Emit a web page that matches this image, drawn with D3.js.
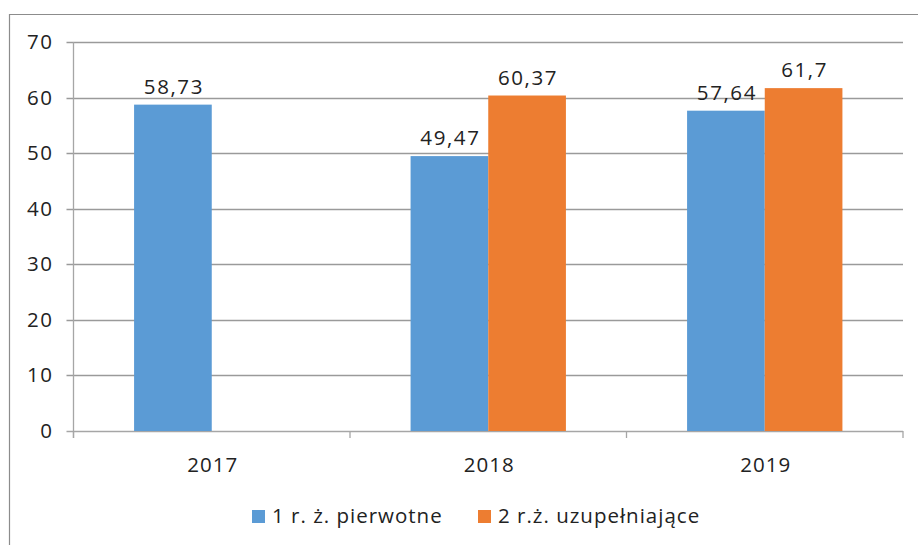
<!DOCTYPE html>
<html>
<head>
<meta charset="utf-8">
<script src="https://d3js.org/d3.v7.min.js"></script>
<style>
	body { margin: 0; background: #fff; }
	text { font-family: "Open Sans", sans-serif; fill: #222; }
</style>
</head>
<body>
<script>
var years = ['2017', '2018', '2019'];
var seriesNames = ['1 r. ż. pierwotne', '2 r.ż. uzupełniające'];
var pierwotne = [58.73, 49.47, 57.64];
var uzupelniajace = [null, 60.37, 61.7];
var yTicks = [0, 10, 20, 30, 40, 50, 60, 70];
var colors = ['#5b9bd5', '#ed7d31'];

var width = 918, height = 545;
var margin = {left: 73.5, right: 15, top: 42, bottom: 114};

var svg = d3.select('body').append('svg')
	.attr('width', width)
	.attr('height', height);

// outer chart frame (cut off at right and bottom)
svg.append('path')
	.attr('d', 'M9.5,' + height + 'V14.5H' + width)
	.attr('fill', 'none')
	.attr('stroke', '#8c8c8c')
	.attr('stroke-width', 1.2);

var x = d3.scaleBand()
	.domain(years)
	.range([margin.left, width - margin.right]);

var x1 = d3.scaleBand()
	.domain([0, 1])
	.range([0, x.bandwidth()])
	.paddingOuter(0.78)
	.paddingInner(0);

var y = d3.scaleLinear()
	.domain([0, 70])
	.range([height - margin.bottom, margin.top]);

// gridlines + y labels
var yAxis = svg.append('g');
yAxis.selectAll('line.grid')
	.data(yTicks)
	.enter().append('line')
	.attr('x1', margin.left - 7)
	.attr('x2', width - margin.right)
	.attr('y1', function(d){ return Math.round(y(d)) + 0.5; })
	.attr('y2', function(d){ return Math.round(y(d)) + 0.5; })
	.attr('stroke', function(d){ return d === 0 ? '#a6a6a6' : '#9a9a9a'; })
	.attr('stroke-width', 1.3);

yAxis.selectAll('text')
	.data(yTicks)
	.enter().append('text')
	.attr('x', 53.5)
	.attr('y', function(d){ return y(d) + 7; })
	.attr('text-anchor', 'end')
	.attr('font-size', 20.5)
	.attr('letter-spacing', 1.5)
	.text(function(d){ return d; });

// y axis line
svg.append('line')
	.attr('x1', margin.left).attr('x2', margin.left)
	.attr('y1', margin.top).attr('y2', y(0) + 7)
	.attr('stroke', '#a6a6a6')
	.attr('stroke-width', 1.3);

// category ticks
var bounds = years.map(function(d){ return x(d); }).concat([width - margin.right]);
svg.selectAll('line.ctick')
	.data(bounds)
	.enter().append('line')
	.attr('x1', function(d){ return d; })
	.attr('x2', function(d){ return d; })
	.attr('y1', y(0))
	.attr('y2', y(0) + 7)
	.attr('stroke', '#a6a6a6')
	.attr('stroke-width', 1.3);

// bars
var bars = [];
years.forEach(function(yr, i){
	[pierwotne[i], uzupelniajace[i]].forEach(function(v, s){
		if(v !== null) bars.push({year: yr, s: s, value: v});
	});
});

svg.selectAll('rect.bar')
	.data(bars)
	.enter().append('rect')
	.attr('x', function(d){ return x(d.year) + x1(d.s); })
	.attr('width', x1.bandwidth())
	.attr('y', function(d){ return y(d.value); })
	.attr('height', function(d){ return y(0) - y(d.value); })
	.attr('fill', function(d){ return colors[d.s]; });

// value labels
svg.selectAll('text.val')
	.data(bars)
	.enter().append('text')
	.attr('x', function(d){ return x(d.year) + x1(d.s) + x1.bandwidth() / 2 + 1; })
	.attr('y', function(d){ return y(d.value) - 11; })
	.attr('text-anchor', 'middle')
	.attr('font-size', 20.5)
	.attr('letter-spacing', 1.6)
	.text(function(d){ return String(d.value).replace('.', ','); });

// category labels
svg.selectAll('text.cat')
	.data(years)
	.enter().append('text')
	.attr('x', function(d){ return x(d) + x.bandwidth() / 2 + 1; })
	.attr('y', 472)
	.attr('text-anchor', 'middle')
	.attr('font-size', 20.5)
	.attr('letter-spacing', 1)
	.text(function(d){ return d; });

// legend
var legendX = [252, 478];
var legend = svg.selectAll('g.legend')
	.data(seriesNames)
	.enter().append('g')
	.attr('transform', function(d, i){ return 'translate(' + legendX[i] + ',510)'; });
legend.append('rect')
	.attr('width', 13).attr('height', 13)
	.attr('fill', function(d, i){ return colors[i]; });
legend.append('text')
	.attr('x', 20)
	.attr('y', 13)
	.attr('font-size', 20.5)
	.attr('letter-spacing', 1)
	.text(function(d){ return d; });
</script>
</body>
</html>
